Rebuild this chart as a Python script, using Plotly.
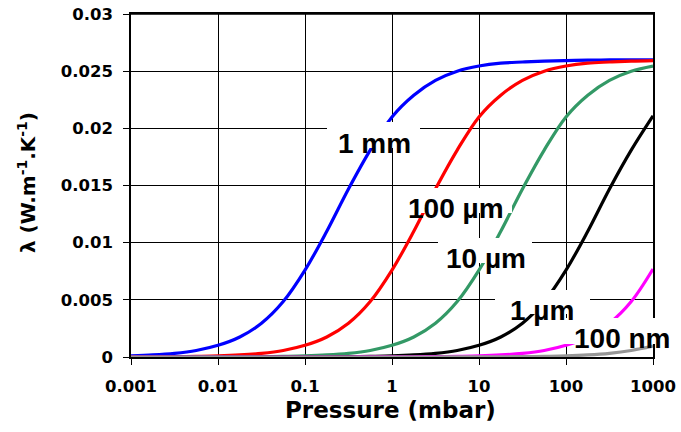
import plotly.graph_objects as go

# ---- data ----
pressure = [0.001, 0.00178, 0.00316, 0.00562, 0.01, 0.0178, 0.0316, 0.0562,
            0.1, 0.178, 0.316, 0.562, 1, 1.78, 3.16, 5.62, 10, 17.8, 31.6, 56.2,
            100, 178, 316, 562, 1000]

lam_1mm = [0.0001, 0.00018, 0.00032, 0.00057, 0.00102, 0.00175, 0.00295, 0.00485,
           0.0076, 0.0110, 0.0147, 0.0181, 0.0210, 0.0229, 0.0242, 0.0250, 0.02545,
           0.0257, 0.0258, 0.02588, 0.02593, 0.02596, 0.02598, 0.02599, 0.026]
lam_100um = [0.00001, 0.00002, 0.00003, 0.00006, 0.0001, 0.00018, 0.00032, 0.00057,
             0.00102, 0.00175, 0.00295, 0.00485, 0.0076, 0.0110, 0.0147, 0.0181,
             0.0210, 0.0229, 0.0242, 0.0250, 0.02545, 0.0257, 0.0258, 0.02588, 0.02593]
lam_10um = [0, 0, 0, 0.00001, 0.00001, 0.00002, 0.00003, 0.00006, 0.0001, 0.00018,
            0.00032, 0.00057, 0.00102, 0.00175, 0.00295, 0.00485, 0.0076, 0.0110,
            0.0147, 0.0181, 0.0210, 0.0229, 0.0242, 0.0250, 0.02545]
lam_1um = [0, 0, 0, 0, 0, 0, 0, 0.00001, 0.00001, 0.00002, 0.00003, 0.00006, 0.0001,
           0.00018, 0.00032, 0.00057, 0.00102, 0.00175, 0.00295, 0.00485, 0.0076,
           0.0110, 0.0147, 0.0181, 0.0211]
lam_100nm = [0, 0, 0, 0, 0, 0, 0, 0, 0, 0, 0, 0.00001, 0.00001, 0.00002, 0.00003,
             0.00006, 0.0001, 0.00018, 0.00032, 0.00057, 0.00102, 0.00175, 0.00295,
             0.00485, 0.0077]
lam_10nm = [0, 0, 0, 0, 0, 0, 0, 0, 0, 0, 0, 0, 0, 0, 0, 0.00001, 0.00001, 0.00002,
            0.00003, 0.00006, 0.0001, 0.00018, 0.00032, 0.00057, 0.00095]

series_names = ["1 mm", "100 µm", "10 µm", "1 µm", "100 nm", "10 nm"]
series_values = [lam_1mm, lam_100um, lam_10um, lam_1um, lam_100nm, lam_10nm]
series_colors = ["#0000FF", "#FF0000", "#339966", "#000000", "#FF00FF", "#969696"]

x_tickvals = [0.001, 0.01, 0.1, 1, 10, 100, 1000]
x_ticktext = ["0.001", "0.01", "0.1", "1", "10", "100", "1000"]
y_tickvals = [0, 0.005, 0.01, 0.015, 0.02, 0.025, 0.03]
y_ticktext = ["0", "0.005", "0.01", "0.015", "0.02", "0.025", "0.03"]

# label texts, their centres and white boxes (in pixels of the 681x432 page)
labels = ["1 mm", "100 µm", "10 µm", "1 µm", "100 nm"]
label_centres = [(374, 143), (456, 208), (486, 258), (542, 310), (622, 338)]
label_boxes = [(327, 420, 122, 148), (398, 512, 188, 213), (438, 532, 238, 263),
               (495, 590, 290, 314), (565, 676, 318, 344)]

W, H = 681, 432
PL, PR, PT, PB = 131, 653, 14, 357          # plot area in page pixels
ML, MR, MT, MB = PL, W - PR, PT, H - PB
PW, PH = PR - PL, PB - PT


def px(x):
    return (x - PL) / PW


def py(y):
    return (PB - y) / PH


fig = go.Figure()
for name, vals, col in zip(series_names, series_values, series_colors):
    fig.add_trace(go.Scatter(x=pressure, y=vals, mode="lines", name=name,
                             line=dict(color=col, width=3.2, shape="spline", smoothing=1),
                             hoverinfo="skip"))

# top border of the plot area
fig.add_shape(type="line", xref="paper", yref="paper", x0=0, x1=1, y0=1, y1=1,
              line=dict(color="black", width=1.5), layer="above")

for (x0, x1, y0, y1) in label_boxes:
    fig.add_shape(type="rect", xref="paper", yref="paper",
                  x0=px(x0), x1=px(x1), y0=py(y1), y1=py(y0),
                  fillcolor="white", line=dict(width=0), layer="above")

for txt, (cx, cy) in zip(labels, label_centres):
    fig.add_annotation(text=txt, xref="paper", yref="paper", x=px(cx), y=py(cy),
                       xanchor="center", yanchor="middle", showarrow=False,
                       font=dict(family="Liberation Sans, Arial", size=28,
                                 color="black", weight="bold"))

# axis titles
fig.add_annotation(text="Pressure (mbar)", xref="paper", yref="paper",
                   x=px(390), y=py(410), xanchor="center", yanchor="middle",
                   showarrow=False,
                   font=dict(family="DejaVu Sans", size=23, color="black", weight="bold"))
fig.add_annotation(text="λ (W.m<sup>-1</sup>.K<sup>-1</sup>)", xref="paper", yref="paper",
                   x=px(27), y=py(183), xanchor="center", yanchor="middle",
                   textangle=-90, showarrow=False,
                   font=dict(family="DejaVu Sans", size=20, color="black", weight="bold"))

tickfont = dict(family="DejaVu Sans", size=16.5, color="black", weight="bold")
fig.update_xaxes(type="log", range=[-3, 3], tickvals=x_tickvals, ticktext=x_ticktext,
                 showgrid=True, gridcolor="black", gridwidth=1.3,
                 showline=True, linecolor="black", linewidth=1.5, mirror=True,
                 ticks="outside", ticklen=6, tickcolor="black", tickwidth=1.3,
                 tickfont=tickfont, zeroline=False, ticklabelstandoff=7,
                 ticklabeloverflow="allow", automargin=False)
fig.update_yaxes(range=[0, 0.03], tickvals=y_tickvals, ticktext=y_ticktext,
                 showgrid=True, gridcolor="black", gridwidth=1.3,
                 showline=True, linecolor="black", linewidth=1.5, mirror=True,
                 ticks="outside", ticklen=6, tickcolor="black", tickwidth=1.3,
                 tickfont=tickfont, zeroline=False, ticklabelstandoff=7,
                 ticklabeloverflow="allow", automargin=False)

fig.update_layout(width=W, height=H,
                  margin=dict(l=ML, r=MR, t=MT, b=MB, autoexpand=False),
                  paper_bgcolor="white", plot_bgcolor="white", showlegend=False)

# remove the default 8 px body margin so the figure fills the window exactly
fig.write_html("out.html", config={"displayModeBar": False},
               post_script="document.body.style.margin='0';")
